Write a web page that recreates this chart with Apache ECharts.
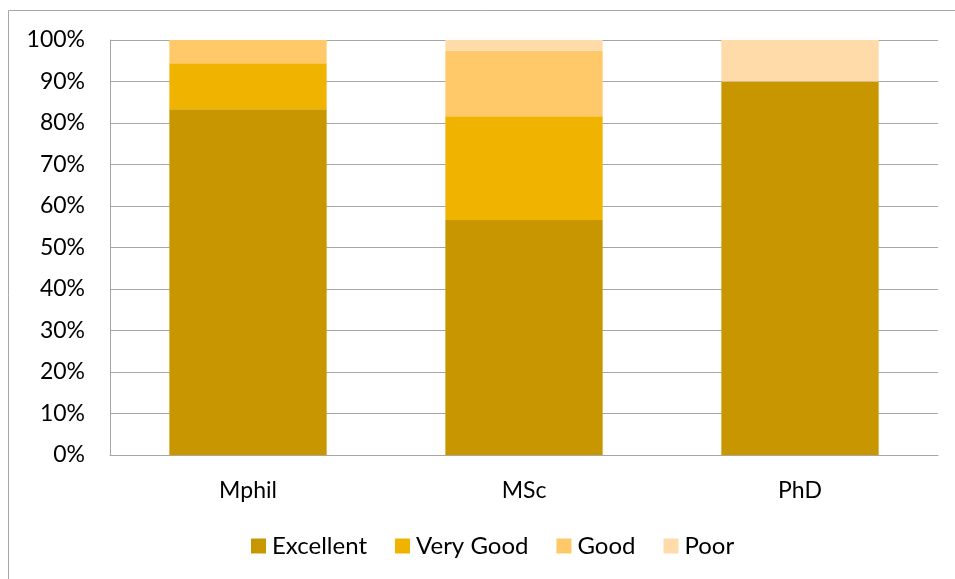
<!DOCTYPE html>
<html><head><meta charset="utf-8">
<script src="https://cdn.jsdelivr.net/npm/echarts@6/dist/echarts.min.js"></script>
<style>html,body{margin:0;padding:0;background:#fff}#c{width:955px;height:579px}</style>
</head><body><div id="c"></div>
<script>
var categories = ['Mphil', 'MSc', 'PhD'];
var excellent = [83.3, 56.6, 90.0];
var veryGood = [11.1, 25.0, 0];
var good = [5.6, 15.8, 0];
var poor = [0, 2.6, 10.0];
var seriesNames = ['Excellent', 'Very Good', 'Good', 'Poor'];
var colors = ['#C89700', '#F0B300', '#FFC869', '#FFDBAA'];
var font = 'Lato, "Open Sans", sans-serif';
var chart = echarts.init(document.getElementById('c'));
var data = [excellent, veryGood, good, poor];
chart.setOption({
  animation: false,
  color: colors,
  graphic: [{type: 'rect', shape: {x: 8.5, y: 10.5, width: 960, height: 600}, style: {fill: 'none', stroke: '#a6a6a6', lineWidth: 1}, silent: true}],
  grid: {left: 110, right: 17, top: 40, bottom: 124},
  legend: {
    bottom: 16, left: 246, itemWidth: 15, itemHeight: 15, itemGap: 28,
    icon: 'rect', textStyle: {fontFamily: font, fontSize: 24, color: '#000', padding: [0, 0, 0, 1]},
    data: seriesNames
  },
  xAxis: {
    type: 'category', data: categories,
    axisLine: {lineStyle: {color: '#a6a6a6'}}, axisTick: {show: false},
    axisLabel: {fontFamily: font, fontSize: 23, color: '#000', margin: 24}
  },
  yAxis: {
    type: 'value', min: 0, max: 100, interval: 10,
    axisLine: {show: true, lineStyle: {color: '#a6a6a6'}}, axisTick: {show: false},
    splitLine: {lineStyle: {color: '#a6a6a6'}},
    axisLabel: {fontFamily: font, fontSize: 23, color: '#000', margin: 25, formatter: '{value}%'}
  },
  series: seriesNames.map(function (n, i) {
    return {name: n, type: 'bar', stack: 's', data: data[i], barWidth: '57%'};
  })
});
</script></body></html>
